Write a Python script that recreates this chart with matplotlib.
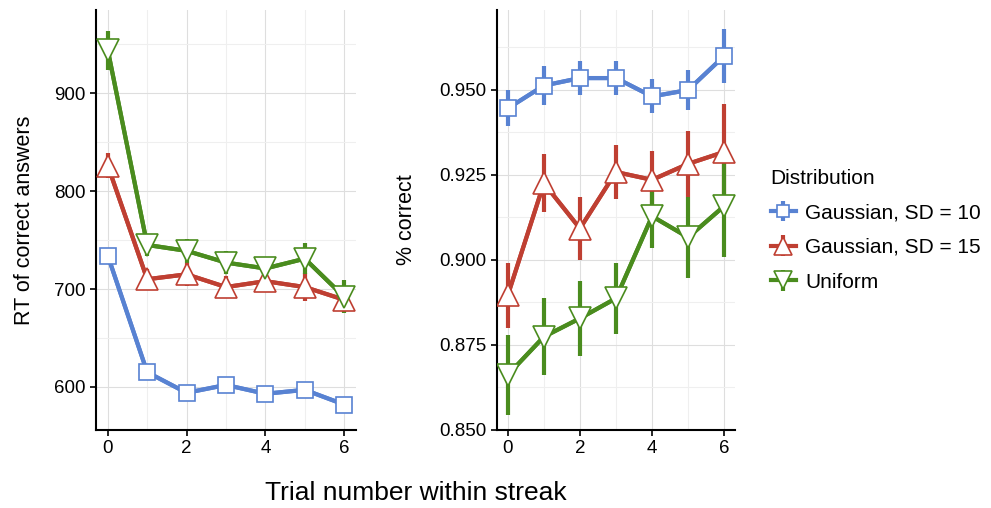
import numpy as np
import matplotlib.pyplot as plt
from matplotlib.ticker import MultipleLocator

plt.rcParams['font.family'] = ['Liberation Sans', 'DejaVu Sans']

#-----DATA--------------------------------------------------------
trial = [0, 1, 2, 3, 4, 5, 6]
labels = ["Gaussian, SD = 10", "Gaussian, SD = 15", "Uniform"]

rt_sd10 = [734, 615, 594, 602, 593, 597, 582]
rt_sd10_err = [3, 3, 3, 3, 3, 3, 3]
rt_sd15 = [826, 710, 715, 702, 708, 702, 689]
rt_sd15_err = [13, 10, 12, 11, 9, 14, 12]
rt_unif = [944, 745, 739, 727, 721, 731, 692]
rt_unif_err = [20, 11, 12, 12, 9, 16, 17]

pc_sd10 = [0.9445, 0.9512, 0.9534, 0.9534, 0.9480, 0.9499, 0.9599]
pc_sd10_err = [0.0053, 0.0058, 0.0050, 0.0050, 0.0050, 0.0060, 0.0080]
pc_sd15 = [0.8896, 0.9225, 0.9092, 0.9258, 0.9235, 0.9282, 0.9317]
pc_sd15_err = [0.0095, 0.0085, 0.0092, 0.0080, 0.0084, 0.0097, 0.0140]
pc_unif = [0.8662, 0.8774, 0.8828, 0.8887, 0.9128, 0.9066, 0.9158]
pc_unif_err = [0.0117, 0.0113, 0.0110, 0.0105, 0.0092, 0.0120, 0.0150]
#-----/DATA-------------------------------------------------------

colors = ["#5882d2", "#bf3f32", "#4a8c1e"]
markers = ["s", "^", "v"]
msizes = [11.5, 16, 16]

fig = plt.figure(figsize=(9.91, 5.08), dpi=100)
ax1 = fig.add_axes([96 / 991, 78 / 508, 260 / 991, 420 / 508])
ax2 = fig.add_axes([497 / 991, 78 / 508, 238 / 991, 420 / 508])


def draw(ax, series, errs):
    handles = []
    for vals, err, c, m, ms in zip(series, errs, colors, markers, msizes):
        ax.plot(trial, vals, color=c, lw=3, zorder=2)
        h = ax.errorbar(trial, vals, yerr=err, fmt=m, color=c, ecolor=c,
                        elinewidth=3, capsize=0, ms=ms, mfc="white", mec=c,
                        mew=1.2, lw=3, ls="-", zorder=3)
        handles.append(h)
    ax.set_xlim(-0.3, 6.3)
    ax.xaxis.set_major_locator(MultipleLocator(2))
    ax.xaxis.set_minor_locator(MultipleLocator(1))
    ax.grid(True, which="major", color="#dedede", lw=0.8, zorder=0)
    ax.grid(True, which="minor", color="#efefef", lw=0.8, zorder=0)
    ax.set_axisbelow(True)
    for s in ["top", "right"]:
        ax.spines[s].set_visible(False)
    for s in ["left", "bottom"]:
        ax.spines[s].set_linewidth(1.5)
    ax.tick_params(which="major", labelsize=13.5, length=4, width=1.2,
                   colors="black")
    ax.tick_params(which="minor", length=0)
    return handles


handles = draw(ax1, [rt_sd10, rt_sd15, rt_unif], [rt_sd10_err, rt_sd15_err, rt_unif_err])
ax1.set_ylim(556, 985)
ax1.yaxis.set_major_locator(MultipleLocator(100))
ax1.yaxis.set_minor_locator(MultipleLocator(50))
ax1.set_ylabel("RT of correct answers", fontsize=15.5, labelpad=14)

draw(ax2, [pc_sd10, pc_sd15, pc_unif], [pc_sd10_err, pc_sd15_err, pc_unif_err])
ax2.set_ylim(0.850, 0.9734)
ax2.yaxis.set_major_locator(MultipleLocator(0.025))
ax2.yaxis.set_minor_locator(MultipleLocator(0.0125))
ax2.yaxis.set_major_formatter(plt.FormatStrFormatter("%.3f"))
ax2.set_ylabel("% correct", fontsize=15.5, labelpad=16)

fig.text(0.42, 0.005, "Trial number within streak", fontsize=19, ha="center",
         va="bottom")

leg = fig.legend(handles, labels, title="Distribution", loc="upper left",
                 bbox_to_anchor=(752 / 991, 1 - 150 / 508), frameon=False,
                 fontsize=15, title_fontsize=15, handlelength=1.2,
                 handletextpad=0.45, labelspacing=0.75, alignment="left",
                 markerscale=0.8)

fig.savefig("out.png", dpi=100)
